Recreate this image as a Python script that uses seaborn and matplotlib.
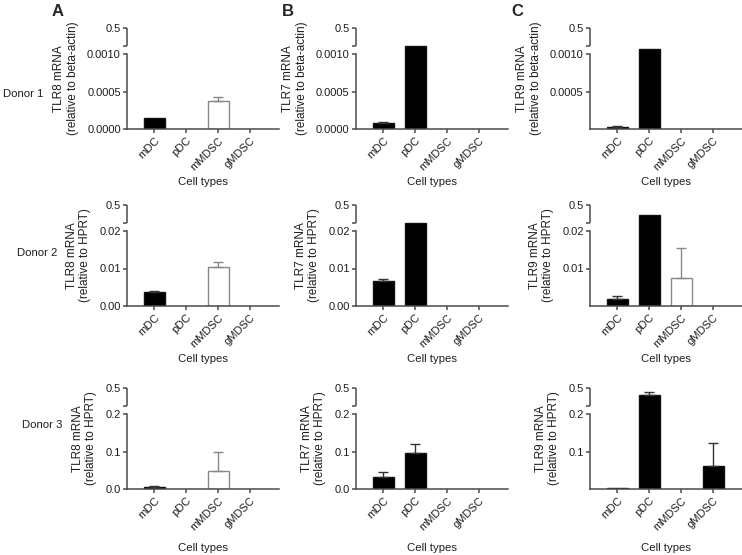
import matplotlib
matplotlib.use("Agg")
import matplotlib.pyplot as plt
import seaborn as sns
import numpy as np

sns.set_theme(style="ticks")
plt.rcParams["font.family"] = ["Liberation Sans", "DejaVu Sans"]
plt.rcParams["font.size"] = 8

cells = ["mDC", "pDC", "mMDSC", "gMDSC"]
genes = ["TLR8", "TLR7", "TLR9"]
donors = ["Donor 1", "Donor 2", "Donor 3"]
refs = ["beta-actin", "HPRT", "HPRT"]

# means / upper error per (donor, gene)
means = {
    (0, 0): [0.00015, 0, 0.00037, 0],
    (0, 1): [0.00008, 0.0011, 0, 0],
    (0, 2): [0.00003, 0.00107, 0, 0],
    (1, 0): [0.0038, 0, 0.0104, 0],
    (1, 1): [0.0066, 0.0221, 0, 0],
    (1, 2): [0.0019, 0.23, 0.0076, 0],
    (2, 0): [0.005, 0, 0.049, 0],
    (2, 1): [0.033, 0.096, 0, 0],
    (2, 2): [0.0015, 0.39, 0, 0.062],
}
errs = {
    (0, 0): [0, 0, 0.00006, 0],
    (0, 1): [0.00001, 0, 0, 0],
    (0, 2): [0.000005, 0, 0, 0],
    (1, 0): [0.0002, 0, 0.0014, 0],
    (1, 1): [0.0005, 0, 0, 0],
    (1, 2): [0.0007, 0, 0.0078, 0],
    (2, 0): [0.002, 0, 0.051, 0],
    (2, 1): [0.012, 0.024, 0, 0],
    (2, 2): [0, 0.048, 0, 0.062],
}
fills = {key: ["black", "black", "white", "white"] for key in means}
fills[(2, 2)] = ["black", "black", "white", "black"]

# broken axis: lower segment top, mid tick and label format per donor row
low_tops = [0.001, 0.02, 0.2]
mids = [0.0005, 0.01, 0.1]
fmts = ["%.4f", "%.2f", "%.1f"]
top_val = 0.5

W, H = 742, 555
lefts = [127, 356, 590]
tops = [28, 205, 388]
AX_W, AX_H = 152, 101
LOW, GAP = 75, 8
GRAY = "#4a4a4a"
TXT = "#1e1e1e"


def make_scale(nodes, pos):
    nodes = np.asarray(nodes, float)
    pos = np.asarray(pos, float)
    s0 = (pos[1] - pos[0]) / (nodes[1] - nodes[0])
    s1 = (pos[-1] - pos[-2]) / (nodes[-1] - nodes[-2])

    def fwd(v):
        v = np.asarray(v, float)
        out = np.interp(v, nodes, pos)
        out = np.where(v < nodes[0], pos[0] + (v - nodes[0]) * s0, out)
        return np.where(v > nodes[-1], pos[-1] + (v - nodes[-1]) * s1, out)

    def inv(p):
        p = np.asarray(p, float)
        out = np.interp(p, pos, nodes)
        out = np.where(p < pos[0], nodes[0] + (p - pos[0]) / s0, out)
        return np.where(p > pos[-1], nodes[-1] + (p - pos[-1]) / s1, out)

    return fwd, inv


fig = plt.figure(figsize=(W / 100, H / 100), dpi=100)

for r in range(3):
    lt = low_tops[r]
    ub = lt * (1 + GAP / LOW)
    fwd, inv = make_scale([0, lt, ub, top_val], [0, LOW, LOW + GAP, AX_H])
    for c in range(3):
        ax = fig.add_axes([lefts[c] / W, 1 - (tops[r] + AX_H) / H, AX_W / W, AX_H / H])
        vals = means[(r, c)]
        pal = dict(zip(cells, fills[(r, c)]))
        sns.barplot(x=cells, y=vals, hue=cells, palette=pal, legend=False,
                    width=0.65, saturation=1, errorbar=None, ax=ax)
        for patch, col, v in zip(ax.patches, fills[(r, c)], vals):
            edge = "#111111" if col == "black" else "#888888"
            patch.set_edgecolor(edge)
            patch.set_linewidth(1.0 if v > 0 else 0)
        for i, (v, e) in enumerate(zip(vals, errs[(r, c)])):
            if e > 0:
                ecol = "#333333" if fills[(r, c)][i] == "black" else "#888888"
                ax.errorbar(i, v, yerr=[[0], [e]], fmt="none", ecolor=ecol,
                            elinewidth=1, capsize=3.5, capthick=1)
        ax.set_yscale("function", functions=(fwd, inv))
        ax.set_ylim(0, top_val)
        ax.set_xlim(-0.85, 3.9)

        yt = [0, mids[r], lt, ub, top_val]
        yl = [fmts[r] % 0, fmts[r] % mids[r], fmts[r] % lt, "", "0.5"]
        if c == 2:
            yt, yl = yt[1:], yl[1:]
        ax.set_yticks(yt)
        ax.set_yticklabels(yl)
        ax.minorticks_off()

        for side in ["top", "right"]:
            ax.spines[side].set_visible(False)
        ax.spines["left"].set_bounds(0, lt)
        for side in ["left", "bottom"]:
            ax.spines[side].set_color(GRAY)
            ax.spines[side].set_linewidth(1.1)
        ax.plot([0, 0], [ub, top_val], transform=ax.get_yaxis_transform(),
                color=GRAY, lw=1.1, clip_on=False, solid_capstyle="butt")
        ax.tick_params(axis="both", direction="out", length=3, width=1.1,
                       color=GRAY, labelsize=8, labelcolor=TXT, pad=1.5)
        plt.setp(ax.get_xticklabels(), rotation=45, ha="right",
                 rotation_mode="anchor")
        ax.set_ylabel(f"{genes[c]} mRNA\n(relative to {refs[r]})", fontsize=8.5,
                      color=TXT, labelpad=6, linespacing=1.15)
        ax.set_xlabel("Cell types", fontsize=8.2, color=TXT,
                      labelpad=8 if r == 2 else 4)
        ax.set_facecolor("none")

for letter, x in zip(["A", "B", "C"], [58, 288, 517]):
    fig.text(x / W, 1 - 12 / H, letter, weight="bold", fontsize=12,
             ha="center", va="center")
for d, (x, y) in zip(donors, [(3, 94), (17, 253), (22, 425)]):
    fig.text(x / W, 1 - y / H, d, fontsize=8.2, ha="left", va="center",
             color=TXT)

fig.savefig("out.png", dpi=100)
